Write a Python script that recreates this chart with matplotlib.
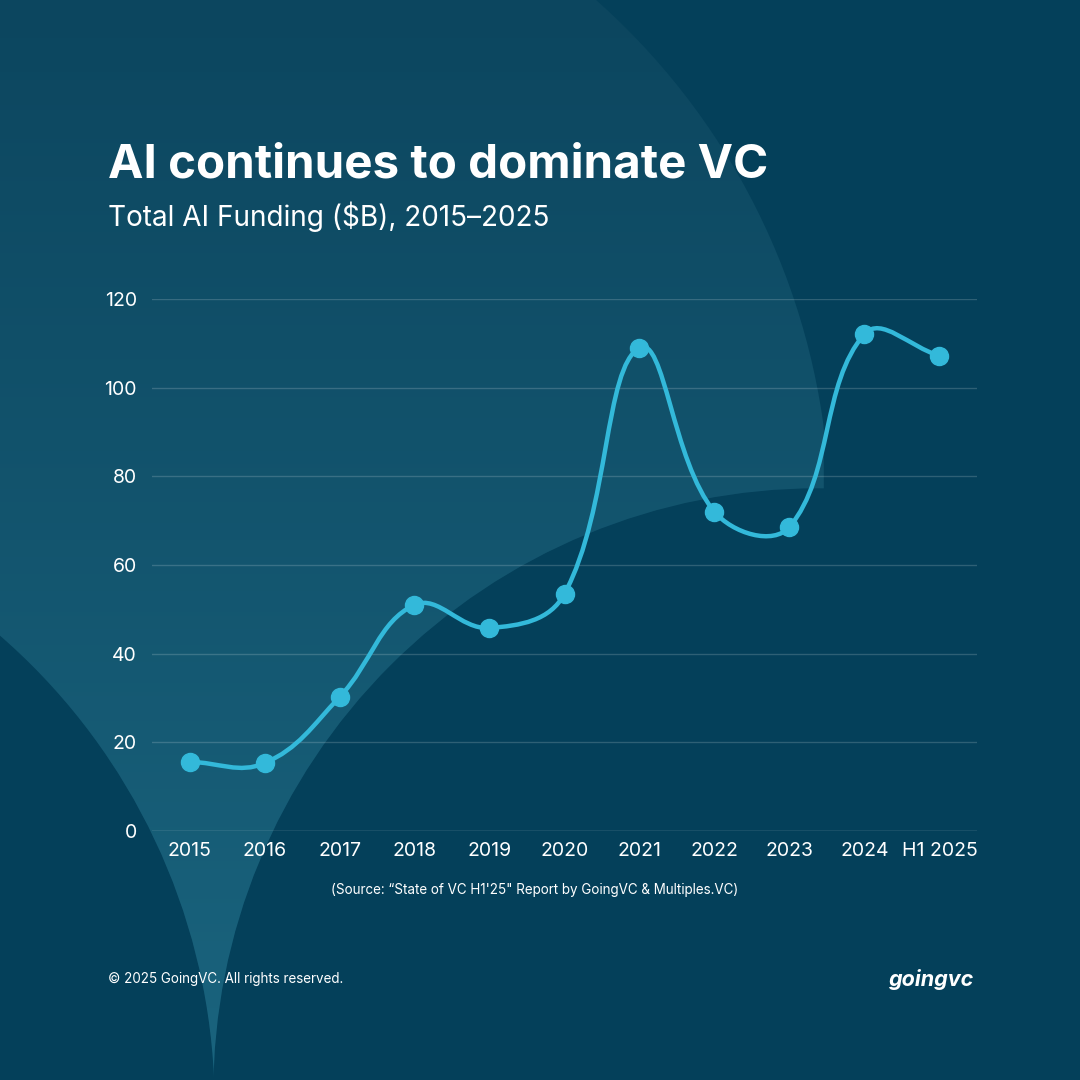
import numpy as np
import matplotlib.pyplot as plt
from matplotlib.path import Path
from matplotlib.patches import PathPatch, Circle, Rectangle

# data
years = ['2015', '2016', '2017', '2018', '2019', '2020', '2021', '2022', '2023', '2024', 'H1 2025']
funding = [15.6, 15.3, 30.2, 51.0, 45.8, 53.5, 109.0, 72.0, 68.6, 112.1, 107.2]
y_ticks = [0, 20, 40, 60, 80, 100, 120]

dark = '#04405a'
line_col = '#33b9da'
font = 'Inter'

fig = plt.figure(figsize=(10.8, 10.8), dpi=100)

# background shapes, in pixel coords (y down)
bg = fig.add_axes([0, 0, 1, 1])
bg.set_xlim(0, 1080)
bg.set_ylim(1080, 0)
bg.axis('off')
bg.add_patch(Rectangle((0, 0), 1080, 1080, color=dark, zorder=0))

top = np.array([12, 70, 95]) / 255
bottom = np.array([26, 100, 126]) / 255
t = np.linspace(0, 1, 256)[:, None, None]
grad = top + (bottom - top) * t
im = bg.imshow(grad, extent=(0, 1080, 1080, 0), aspect='auto', zorder=1)
big = Circle((135, 520), 695, transform=bg.transData, fc='none', ec='none')
bg.add_patch(big)
im.set_clip_path(big)

bg.add_patch(Rectangle((824, 0), 300, 1080, color=dark, zorder=2))
bg.add_patch(Circle((818, 1093), 604, color=dark, zorder=2))
bg.add_patch(Circle((-410, 1107), 624, color=dark, zorder=2))

# chart
ax = fig.add_axes([152 / 1080, 1 - 831 / 1080, 825 / 1080, 532 / 1080])
ax.set_facecolor('none')
ax.set_xlim(-0.5, len(years) - 0.5)
ax.set_ylim(0, 120)
for s in ax.spines.values():
    s.set_visible(False)
ax.set_yticks(y_ticks)
ax.set_xticks(range(len(years)))
ax.set_xticklabels(years)
ax.tick_params(axis='y', length=0, colors='white', labelsize=14, pad=11)
ax.tick_params(axis='x', length=0, colors='white', labelsize=14, pad=8)
for lab in ax.get_xticklabels() + ax.get_yticklabels():
    lab.set_fontfamily(font)
ax.yaxis.grid(True, color='white', alpha=0.17, lw=1)
ax.axhline(0, color='white', alpha=0.28, lw=1, zorder=1)
ax.set_axisbelow(True)

# smooth line (chart.js style spline, tension 0.4, in screen-like units)
sx, sy = 75.0, 532 / 120
px = np.arange(len(funding)) * sx
py = np.array(funding) * sy
tension = 0.4
verts = [(px[0], py[0])]
codes = [Path.MOVETO]
cps = []
n = len(px)
for i in range(n):
    pi = np.array([px[i], py[i]])
    pp = np.array([px[max(i - 1, 0)], py[max(i - 1, 0)]])
    pn = np.array([px[min(i + 1, n - 1)], py[min(i + 1, n - 1)]])
    d01 = np.hypot(*(pi - pp))
    d12 = np.hypot(*(pn - pi))
    tot = d01 + d12
    s01 = d01 / tot if tot else 0
    s12 = d12 / tot if tot else 0
    cps.append((pi - tension * s01 * (pn - pp), pi + tension * s12 * (pn - pp)))
for i in range(n - 1):
    verts += [tuple(cps[i][1]), tuple(cps[i + 1][0]), (px[i + 1], py[i + 1])]
    codes += [Path.CURVE4] * 3
verts = np.array(verts)
verts[:, 0] /= sx
verts[:, 1] /= sy
ax.add_patch(PathPatch(Path(verts, codes), fc='none', ec=line_col, lw=3.2,
                       capstyle='round', joinstyle='round', zorder=3))
ax.plot(range(len(funding)), funding, 'o', color=line_col, ms=13, zorder=4,
        clip_on=False)

# texts
def fx(x):
    return x / 1080

def fy(y):
    return 1 - y / 1080

fig.text(fx(108), fy(177), 'AI continues to dominate VC', color='white',
         fontsize=34.2, fontweight='bold', family=font, va='baseline')
fig.text(fx(108), fy(226), 'Total AI Funding ($B), 2015\u20132025', color='white',
         fontsize=20.1, family=font, va='baseline')
fig.text(fx(535), fy(890), '(Source: \u201cState of VC H1\'25" Report by GoingVC & Multiples.VC)',
         color='white', fontsize=9.7, family=font, ha='center', va='center')
fig.text(fx(108), fy(979), '\u00a9 2025 GoingVC. All rights reserved.', color='white',
         fontsize=9.7, family=font, va='center')
fig.text(fx(974), fy(979), 'goingvc', color='white', fontsize=15.5, family=font,
         fontweight='bold', style='italic', ha='right', va='center')

fig.savefig('out.png', dpi=100)
